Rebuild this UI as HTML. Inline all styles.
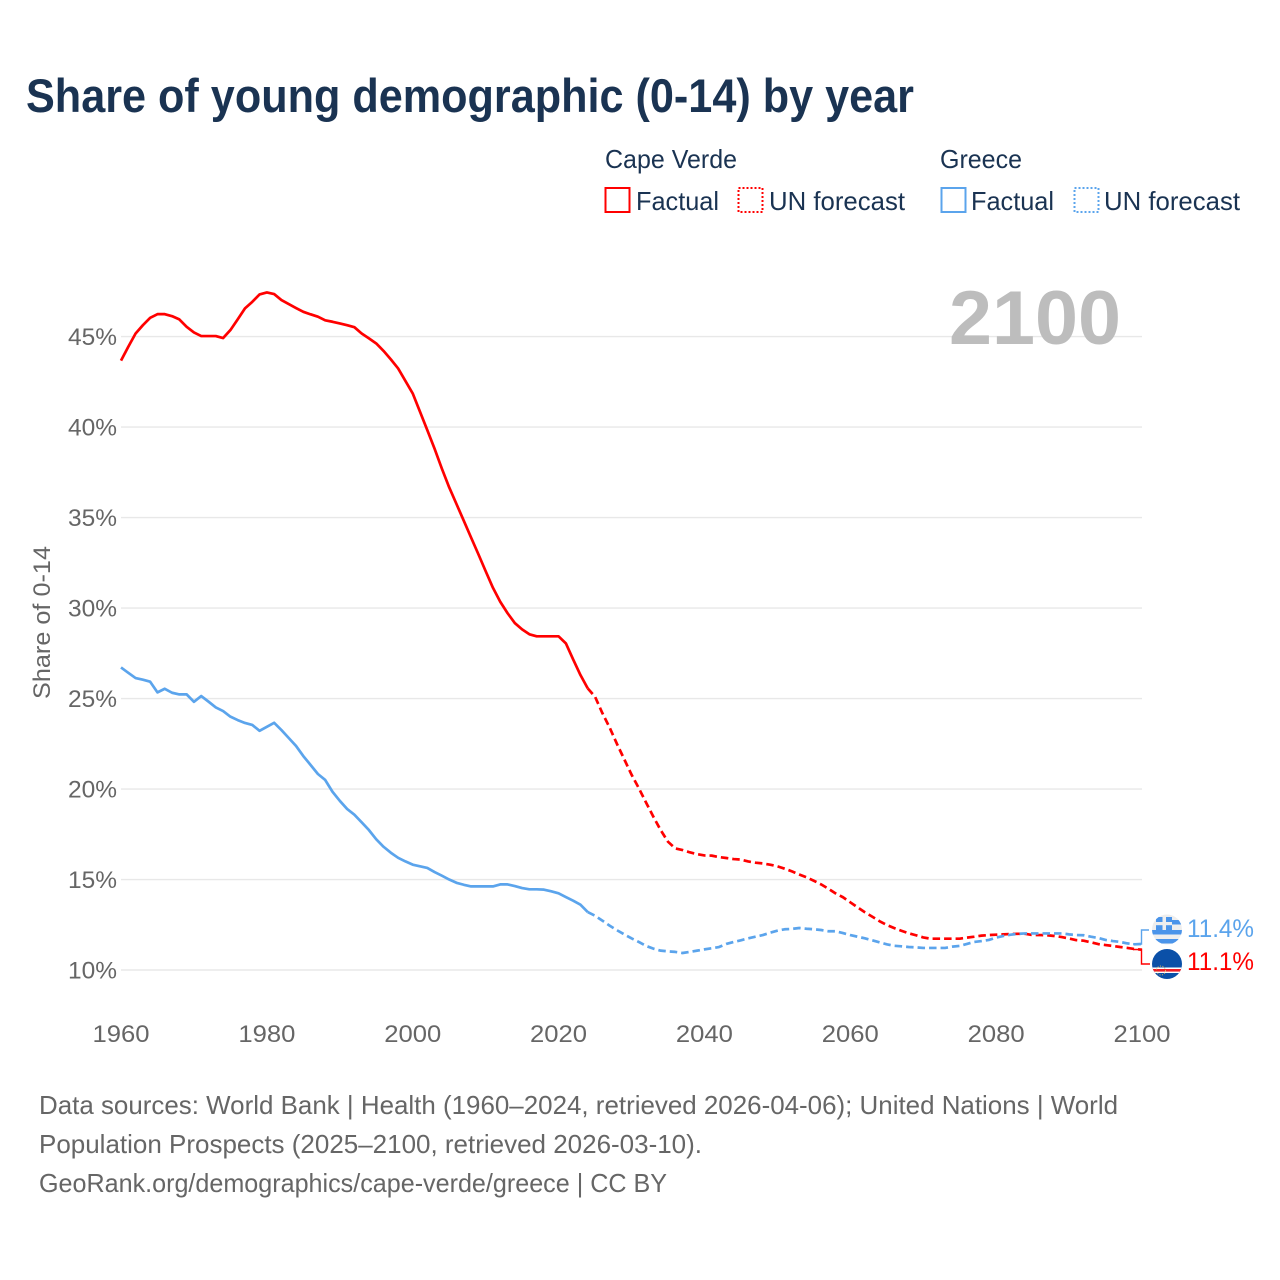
<!DOCTYPE html>
<html lang="en">
<head>
<meta charset="utf-8">
<title>Share of young demographic (0-14) by year</title>
<style>
html,body{margin:0;padding:0;background:#fff;}
svg{display:block;font-family:"Liberation Sans",sans-serif;}
</style>
</head>
<body>
<svg id="chart" width="1280" height="1280" viewBox="0 0 1280 1280" xmlns="http://www.w3.org/2000/svg">
  <rect width="1280" height="1280" fill="#fff"/>
  <text x="26" y="112" font-size="47" font-weight="700" fill="#1a3352" textLength="888" lengthAdjust="spacingAndGlyphs">Share of young demographic (0-14) by year</text>

  <g font-size="26" fill="#1a3352">
    <text x="605" y="168" textLength="132" lengthAdjust="spacingAndGlyphs">Cape Verde</text>
    <text x="940" y="168" textLength="82" lengthAdjust="spacingAndGlyphs">Greece</text>
    <rect x="605.5" y="188" width="24" height="24" fill="none" stroke="#ff0000" stroke-width="2"/>
    <text x="636" y="210" textLength="83" lengthAdjust="spacingAndGlyphs">Factual</text>
    <rect x="738.5" y="188" width="24" height="24" fill="none" stroke="#ff0000" stroke-width="2" stroke-dasharray="2 2"/>
    <text x="769" y="210" textLength="136" lengthAdjust="spacingAndGlyphs">UN forecast</text>
    <rect x="941.5" y="188" width="24" height="24" fill="none" stroke="#5ba4ec" stroke-width="2"/>
    <text x="971" y="210" textLength="83" lengthAdjust="spacingAndGlyphs">Factual</text>
    <rect x="1074.5" y="188" width="24" height="24" fill="none" stroke="#5ba4ec" stroke-width="2" stroke-dasharray="2 2"/>
    <text x="1104" y="210" textLength="136" lengthAdjust="spacingAndGlyphs">UN forecast</text>
  </g>

  <g id="grid"></g>
  <text x="949" y="344" font-size="76" font-weight="700" fill="#bdbdbd" textLength="172" lengthAdjust="spacingAndGlyphs">2100</text>
  <g id="yticks" font-size="24" fill="#666" text-anchor="end"></g>
  <g id="xticks" font-size="24" fill="#666" text-anchor="middle"></g>
  <text transform="translate(50,622.5) rotate(-90)" font-size="24" fill="#666" text-anchor="middle" textLength="153" lengthAdjust="spacingAndGlyphs">Share of 0-14</text>
  <g id="series" fill="none" stroke-width="2.7" stroke-linejoin="round"></g>

  <polyline points="1133,944 1141.5,944 1141.5,930 1149,930" fill="none" stroke="#5ba4ec" stroke-width="1.4"/>
  <polyline points="1133,949.5 1141.5,949.5 1141.5,964 1150,964" fill="none" stroke="#ff0000" stroke-width="1.4"/>

  <defs>
    <clipPath id="clipGr"><circle cx="1167" cy="929.5" r="15"/></clipPath>
    <clipPath id="clipCv"><circle cx="1167" cy="964" r="15"/></clipPath>
  </defs>
  <g clip-path="url(#clipGr)">
    <rect x="1152" y="914" width="30" height="31" fill="#eeeeee"/>
    <rect x="1172" y="920" width="10" height="4.5" fill="#4a94ea"/>
    <rect x="1152" y="930" width="30" height="4.5" fill="#4a94ea"/>
    <rect x="1152" y="939" width="30" height="4.5" fill="#4a94ea"/>
    <rect x="1156" y="917" width="16" height="13" fill="#4a94ea"/>
    <rect x="1162.5" y="917" width="3.5" height="13" fill="#eeeeee"/>
    <rect x="1156" y="922" width="16" height="3.2" fill="#eeeeee"/>
  </g>
  <g clip-path="url(#clipCv)">
    <rect x="1152" y="949" width="30" height="30" fill="#0b50a8"/>
    <rect x="1152" y="967.5" width="30" height="5.5" fill="#ffffff"/>
    <rect x="1152" y="969" width="30" height="2.6" fill="#ef1c24"/>
    <circle cx="1161" cy="970.5" r="4.5" fill="none" stroke="#d8b45a" stroke-width="1" stroke-dasharray="1 1.5"/>
  </g>
  <text x="1187" y="937" font-size="25" fill="#5ba4ec" textLength="67" lengthAdjust="spacingAndGlyphs">11.4%</text>
  <text x="1187" y="970" font-size="25" fill="#ff0000" textLength="67" lengthAdjust="spacingAndGlyphs">11.1%</text>

  <g font-size="26" fill="#666">
    <text x="39" y="1114" textLength="1079" lengthAdjust="spacingAndGlyphs">Data sources: World Bank | Health (1960–2024, retrieved 2026-04-06); United Nations | World</text>
    <text x="39" y="1153" textLength="663" lengthAdjust="spacingAndGlyphs">Population Prospects (2025–2100, retrieved 2026-03-10).</text>
    <text x="39" y="1192" textLength="628" lengthAdjust="spacingAndGlyphs">GeoRank.org/demographics/cape-verde/greece | CC BY</text>
  </g>
</svg>
<script>
const firstYear = 1960;
const lastFactualYear = 2024;
const xTickLabels = [1960, 1980, 2000, 2020, 2040, 2060, 2080, 2100];
const yTickLabels = [10, 15, 20, 25, 30, 35, 40, 45];
const capeVerdeValues = [
  43.67,44.44,45.17,45.63,46.04,46.24,46.24,46.13,45.95,45.54,
  45.23,45.03,45.03,45.03,44.92,45.36,45.95,46.56,46.92,47.33,
  47.44,47.35,47.02,46.80,46.58,46.37,46.23,46.10,45.90,45.82,
  45.73,45.63,45.52,45.17,44.90,44.62,44.21,43.74,43.24,42.55,
  41.86,40.85,39.83,38.80,37.70,36.67,35.75,34.83,33.90,32.98,
  32.04,31.12,30.35,29.72,29.17,28.82,28.55,28.44,28.44,28.44,
  28.44,28.05,27.16,26.30,25.56,25.10,24.20,23.40,22.50,21.65,
  20.80,20.05,19.25,18.47,17.73,17.09,16.72,16.63,16.50,16.40,
  16.33,16.32,16.24,16.19,16.13,16.10,16.00,15.93,15.89,15.82,
  15.73,15.60,15.45,15.28,15.12,14.93,14.73,14.49,14.23,14.02,
  13.74,13.46,13.19,12.95,12.70,12.49,12.32,12.17,12.03,11.92,
  11.80,11.73,11.73,11.73,11.73,11.73,11.79,11.84,11.90,11.93,
  11.95,11.97,11.99,12.00,12.00,11.93,11.93,11.92,11.88,11.82,
  11.74,11.65,11.62,11.53,11.43,11.38,11.33,11.27,11.22,11.16,
  11.12
];
const greeceValues = [
  26.72,26.42,26.13,26.04,25.93,25.34,25.54,25.32,25.23,25.23,
  24.82,25.14,24.83,24.51,24.31,24.00,23.81,23.65,23.54,23.22,
  23.44,23.66,23.26,22.82,22.38,21.82,21.33,20.83,20.50,19.85,
  19.35,18.90,18.58,18.16,17.73,17.22,16.81,16.48,16.20,16.00,
  15.82,15.73,15.64,15.41,15.21,15.00,14.82,14.71,14.62,14.62,
  14.62,14.62,14.73,14.73,14.64,14.53,14.46,14.46,14.44,14.35,
  14.24,14.03,13.83,13.61,13.20,13.00,12.73,12.45,12.20,11.97,
  11.75,11.55,11.33,11.18,11.07,11.03,11.00,10.94,11.00,11.07,
  11.14,11.20,11.27,11.44,11.55,11.64,11.75,11.84,11.93,12.06,
  12.17,12.25,12.27,12.32,12.28,12.25,12.21,12.14,12.14,12.04,
  11.93,11.84,11.75,11.64,11.53,11.42,11.34,11.31,11.27,11.25,
  11.22,11.22,11.22,11.22,11.29,11.33,11.44,11.55,11.60,11.66,
  11.79,11.88,11.95,12.00,12.02,12.02,12.02,12.02,12.02,12.02,
  11.97,11.93,11.92,11.84,11.77,11.66,11.60,11.55,11.47,11.42,
  11.44
];

const SVGNS = 'http://www.w3.org/2000/svg';
function xScale(year) { return 121 + (year - 1960) * (1142 - 121) / 140; }
function yScale(pct) { return 970 - (pct - 10) * (970 - 336.6) / 35; }

const gridG = document.getElementById('grid');
const yG = document.getElementById('yticks');
yTickLabels.forEach(function (v) {
  const line = document.createElementNS(SVGNS, 'line');
  
  
  line.setAttribute('x1', 121);
  line.setAttribute('x2', 1142);
  line.setAttribute('y1', yScale(v));
  line.setAttribute('y2', yScale(v));
  line.setAttribute('stroke', '#e8e8e8');
  line.setAttribute('stroke-width', '1.4');
  gridG.appendChild(line);
  const t = document.createElementNS(SVGNS, 'text');
  
  
  t.setAttribute('x', 117);
  t.setAttribute('y', yScale(v) + 8.5);
  t.setAttribute('textLength', 49);
  t.setAttribute('lengthAdjust', 'spacingAndGlyphs');
  t.textContent = v + '%';
  yG.appendChild(t);
});

const xG = document.getElementById('xticks');
xTickLabels.forEach(function (y) {
  const t = document.createElementNS(SVGNS, 'text');
  
  
  t.setAttribute('x', xScale(y));
  t.setAttribute('y', 1042);
  t.setAttribute('textLength', 57);
  t.setAttribute('lengthAdjust', 'spacingAndGlyphs');
  t.textContent = y;
  xG.appendChild(t);
});

function pathFor(values, fromIdx, toIdx) {
  let d = '';
  for (let i = fromIdx; i <= toIdx; i++) {
    d += (i === fromIdx ? 'M' : 'L') + xScale(firstYear + i).toFixed(2) + ' ' + yScale(values[i]).toFixed(2);
  }
  return d;
}
const seriesG = document.getElementById('series');
const split = lastFactualYear - firstYear;

const gf = document.createElementNS(SVGNS, 'path');


gf.setAttribute('d', pathFor(greeceValues, 0, split));
gf.setAttribute('stroke', '#5ba4ec');
seriesG.appendChild(gf);

const gu = document.createElementNS(SVGNS, 'path');


gu.setAttribute('d', pathFor(greeceValues, split, greeceValues.length - 1));
gu.setAttribute('stroke', '#5ba4ec');
gu.setAttribute('stroke-dasharray', '7.5 4');
seriesG.appendChild(gu);

const cf = document.createElementNS(SVGNS, 'path');


cf.setAttribute('d', pathFor(capeVerdeValues, 0, split));
cf.setAttribute('stroke', '#ff0000');
seriesG.appendChild(cf);

const cu = document.createElementNS(SVGNS, 'path');


cu.setAttribute('d', pathFor(capeVerdeValues, split, capeVerdeValues.length - 1));
cu.setAttribute('stroke', '#ff0000');
cu.setAttribute('stroke-dasharray', '7.5 4');
seriesG.insertBefore(cu, gu);
</script>
</body>
</html>
